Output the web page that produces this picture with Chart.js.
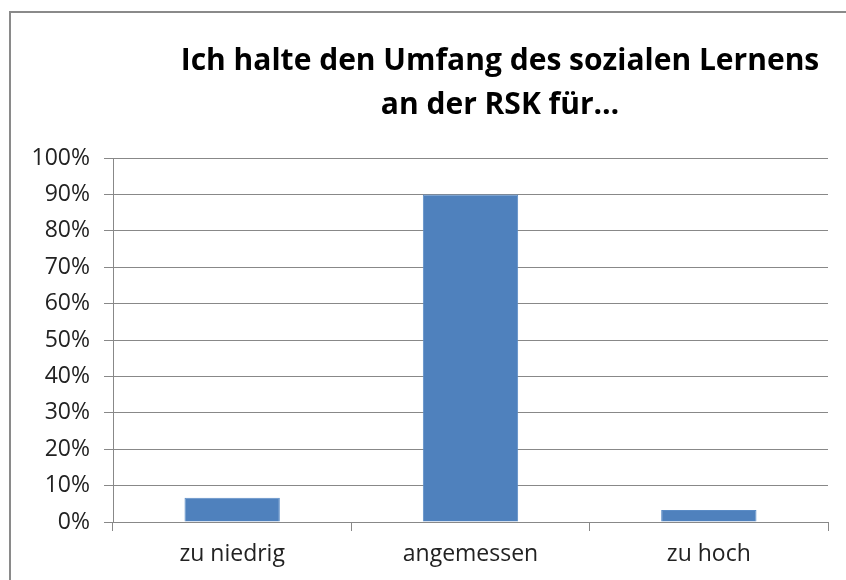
<!DOCTYPE html>
<html>
<head>
<meta charset="utf-8">
<script src="https://cdn.jsdelivr.net/npm/chart.js@4"></script>
<style>
  html, body { margin: 0; padding: 0; background: #fff; }
  canvas { display: block; }
</style>
</head>
<body>
<canvas id="grafica" width="846" height="580"></canvas>
<script>
const kategorien = ["zu niedrig", "angemessen", "zu hoch"];
const anteile = [6.67, 90, 3.33];
const titelZeilen = ["Ich halte den Umfang des sozialen Lernens", "an der RSK für…"];

const farbeBalken = "#4F81BD";
const farbeGitter = "#888888";

// Rahmen und Titel selbst zeichnen (Titel ist nicht über dem Plotbereich zentriert)
const rahmenTitel = {
  id: "rahmenTitel",
  beforeDraw(chart) {
    const ctx = chart.ctx;
    ctx.save();
    ctx.fillStyle = "#fff";
    ctx.fillRect(0, 0, chart.width, chart.height);
    ctx.strokeStyle = "#8a8a8a";
    ctx.lineWidth = 2;
    ctx.strokeRect(10, 12, 860, 600);
    ctx.restore();
  },
  afterDraw(chart) {
    const ctx = chart.ctx;
    ctx.save();
    ctx.fillStyle = "#000";
    ctx.font = "bold 30px 'Open Sans'";
    ctx.textAlign = "center";
    ctx.textBaseline = "alphabetic";
    ctx.fillText(titelZeilen[0], 500, 70);
    ctx.fillText(titelZeilen[1], 500, 114);
    ctx.restore();
  }
};

const config = {
  type: "bar",
  data: {
    labels: kategorien,
    datasets: [{
      data: anteile,
      backgroundColor: farbeBalken,
      borderColor: "#5b8cc6",
      borderWidth: 1,
      categoryPercentage: 1,
      barPercentage: 0.4
    }]
  },
  options: {
    responsive: false,
    animation: false,
    layout: { padding: { top: 158, right: 18, left: 0, bottom: 0 } },
    plugins: {
      legend: { display: false },
      title: { display: false },
      tooltip: { enabled: false }
    },
    scales: {
      y: {
        min: 0,
        max: 100,
        ticks: {
          stepSize: 10,
          color: "#222",
          padding: 14,
          font: { family: "'Open Sans'", size: 23 },
          callback: (v) => v + "%"
        },
        grid: { color: farbeGitter, tickLength: 9, tickColor: farbeGitter },
        border: { color: farbeGitter },
        afterFit: (scale) => { scale.width = 113; }
      },
      x: {
        ticks: {
          color: "#222",
          padding: 10,
          font: { family: "'Open Sans'", size: 23 }
        },
        grid: { drawOnChartArea: false, offset: true, tickLength: 9, color: farbeGitter },
        border: { color: farbeGitter },
        afterFit: (scale) => { scale.height = 58; }
      }
    }
  },
  plugins: [rahmenTitel]
};

new Chart(document.getElementById("grafica"), config);
</script>
</body>
</html>
